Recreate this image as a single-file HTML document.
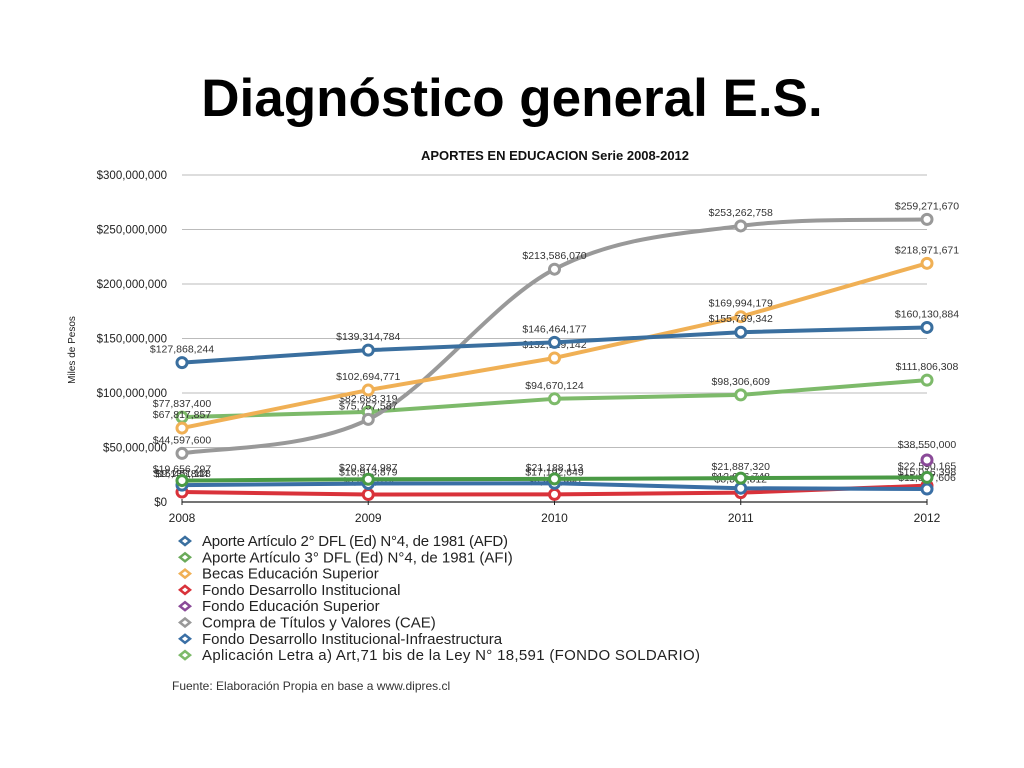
<!DOCTYPE html>
<html><head><meta charset="utf-8"><style>
html,body{margin:0;padding:0;background:#fff;width:1024px;height:768px;overflow:hidden}
h1{position:absolute;left:0;width:1024px;top:68px;margin:0;text-align:center;font-family:"Liberation Sans",sans-serif;font-weight:bold;font-size:53px;color:#000;letter-spacing:0px}
svg{position:absolute;left:0;top:0}
text{font-family:"Liberation Sans",sans-serif}
</style></head><body>
<h1>Diagnóstico general E.S.</h1>
<svg id="c" width="1024" height="768"></svg>
<script>
const years=["2008","2009","2010","2011","2012"];
const yTicks=[0,50,100,150,200,250,300];
const yTickLabels=["$0","$50,000,000","$100,000,000","$150,000,000","$200,000,000","$250,000,000","$300,000,000"];
const afd=[127.868,139.315,146.464,155.769,160.131];
const afdLabels=["$127,868,244","$139,314,784","$146,464,177","$155,769,342","$160,130,884"];
const becas=[67.818,102.695,132.129,169.994,218.972];
const becasLabels=["$67,817,857","$102,694,771","$132,129,142","$169,994,179","$218,971,671"];
const cae=[44.598,75.762,213.586,253.263,259.272];
const caeLabels=["$44,597,600","$75,757,587","$213,586,070","$253,262,758","$259,271,670"];
const afi=[77.837,82.683,94.670,98.307,111.806];
const afiLabels=["$77,837,400","$82,683,319","$94,670,124","$98,306,609","$111,806,308"];
const solidario=[19.656,20.875,21.188,21.887,22.590];
const solidarioLabels=["$19,656,297","$20,874,987","$21,188,113","$21,887,320","$22,590,165"];
const infra=[15.451,16.914,17.192,12.646,11.888];
const infraLabels=["$15,451,118","$16,913,879","$17,192,649","$12,646,748","$11,887,606"];
const fdi=[9.136,6.861,6.964,8.576,15.016];
const fdiLabels=["$9,135,844","$6,861,074","$6,963,990","$8,575,812","$15,016,398"];
const fes=[null,null,null,null,38.55];
const fesLabels=["","","","","$38,550,000"];

const svg=document.getElementById('c');const NS="http://www.w3.org/2000/svg";
const X0=182,X1=927,Y0=502,Y300=175;
const xs=i=>X0+(X1-X0)*i/(years.length-1);
const ys=v=>Y0-(Y0-Y300)*v/300;
function el(t,a,p){const e=document.createElementNS(NS,t);for(const k in a)e.setAttribute(k,a[k]);(p||svg).appendChild(e);return e;}
function tx(x,y,s,size,anchor,w,fill){const e=el('text',{x:x,y:y,'font-size':size,'text-anchor':anchor||'middle','font-weight':w||'normal',fill:fill||'#222'});e.textContent=s;return e;}
const t=tx(555,160,"APORTES EN EDUCACION Serie 2008-2012",13,'middle','bold','#111');

yTicks.forEach((v,i)=>{
 if(v>0){const g=el('line',{x1:X0,x2:X1,y1:ys(v),y2:ys(v),stroke:'#bbb','stroke-width':1});
 }
 const l=tx(167,ys(v)+4,yTickLabels[i],11.5,'end');
 
});
const ax=el('line',{x1:X0,x2:X1,y1:Y0,y2:Y0,stroke:'#222','stroke-width':1.2});

years.forEach((y,i)=>{
 el('line',{x1:xs(i),x2:xs(i),y1:Y0-3,y2:Y0+3,stroke:'#222'});
 const l=tx(xs(i),522,y,12);
 
});
const yt=tx(0,0,"Miles de Pesos",10);yt.setAttribute('transform','translate(75,350) rotate(-90)');


function series(name,vals,labels,color,smooth,lab){
 const g=el('g',{});
 
 const pts=vals.map((v,i)=>v==null?null:[xs(i),ys(v)]).filter(p=>p);
 if(pts.length>1){
  let d="M"+pts[0];
  if(smooth){
   for(let i=0;i<pts.length-1;i++){const p0=pts[i-1]||pts[i],p1=pts[i],p2=pts[i+1],p3=pts[i+2]||p2;
    const c1=[p1[0]+(p2[0]-p0[0])/6,p1[1]+(p2[1]-p0[1])/6],c2=[p2[0]-(p3[0]-p1[0])/6,p2[1]-(p3[1]-p1[1])/6];
    d+=" C"+c1+" "+c2+" "+p2;}
  } else pts.slice(1).forEach(p=>d+=" L"+p);
  el('path',{d:d,fill:'none',stroke:color,'stroke-width':4,'stroke-linejoin':'round'},g);
 }
 pts.forEach(p=>{const c=el('circle',{cx:p[0],cy:p[1],r:5,fill:'#fff',stroke:color,'stroke-width':3},g);
  });
 vals.forEach((v,i)=>{if(v==null)return;const o=lab?lab(i):[0,-9];
  tx(xs(i)+o[0],ys(v)+o[1],labels[i],10.5,'middle','normal','#333');
 });
}
series('series-fdi',fdi,fdiLabels,'#d9323a',false,i=>i==0?[0,-15]:[0,-10]);
series('series-infra',infra,infraLabels,'#3a6fa5',false,i=>[0,-8]);
series('series-solidario',solidario,solidarioLabels,'#4a9a45',false,i=>[0,-8]);
series('series-afi',afi,afiLabels,'#7dba6a',false,i=>[0,-10]);
series('series-cae',cae,caeLabels,'#999',true,i=>[0,-10]);
series('series-becas',becas,becasLabels,'#f0b055',false,i=>[0,-10]);
series('series-afd',afd,afdLabels,'#3a6f9f',false,i=>[0,-10]);
series('series-fes',fes,fesLabels,'#8a4a98',false,i=>[0,-12]);

const legend=[["Aporte Artículo 2° DFL (Ed) N°4, de 1981 (AFD)","#3a6f9f"],["Aporte Artículo 3° DFL (Ed) N°4, de 1981 (AFI)","#6aaa5a"],["Becas Educación Superior","#f0b055"],["Fondo Desarrollo Institucional","#d9323a"],["Fondo Educación Superior","#8a4a98"],["Compra de Títulos y Valores (CAE)","#999"],["Fondo Desarrollo Institucional-Infraestructura","#3a6fa5"],["Aplicación Letra a) Art,71 bis de la Ley N° 18,591 (FONDO SOLDARIO)","#7dba6a"]];
legend.forEach((l,i)=>{const y=541+i*16.3;
 const g=el('g',{});
 el('path',{d:`M180,${y} L185,${y-4} L190,${y} L185,${y+4} Z`,fill:'#fff',stroke:l[1],'stroke-width':2.5},g);
 const t=el('text',{x:202,y:y+5,'font-size':15,fill:'#222'},g);t.textContent=l[0];
 t.setAttribute('textLength',i==7?498:(i==0?306:null));if(i!=0&&i!=7)t.removeAttribute('textLength');});
const f=tx(172,690,"Fuente: Elaboración Propia en base a www.dipres.cl",12,'start','normal','#333');

</script>
</body></html>
